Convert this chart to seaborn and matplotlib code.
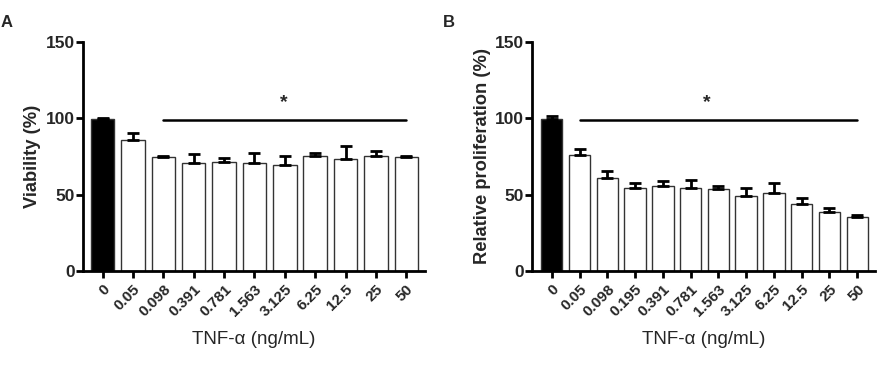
import numpy as np
import pandas as pd
import seaborn as sns
import matplotlib
matplotlib.use('Agg')
import matplotlib.pyplot as plt

# ---------------- data ----------------
dose_a = ['0', '0.05', '0.098', '0.391', '0.781', '1.563', '3.125', '6.25', '12.5', '25', '50']
viab = [99.5, 86, 74.5, 70.5, 71.5, 70.5, 69.5, 75.5, 73, 75, 74.5]
viab_err = [0.8, 4, 1, 6.3, 2.2, 7, 6, 1.7, 8.6, 3.5, 1]

dose_b = ['0', '0.05', '0.098', '0.195', '0.391', '0.781', '1.563', '3.125', '6.25', '12.5', '25', '50']
prolif = [99.6, 76, 61, 54.4, 55.5, 54.5, 53.3, 49, 51.3, 43.5, 38.5, 35.2]
prolif_err = [2, 3.5, 4.4, 3.3, 3.3, 5, 2, 5, 6, 4, 2.5, 1.5]

sns.set_theme(style='ticks')
plt.rcParams['font.family'] = ['Liberation Sans', 'DejaVu Sans']

fig = plt.figure(figsize=(8.82, 3.67), dpi=100)
axA = fig.add_axes([0.0941, 0.262, 0.3878, 0.624])
axB = fig.add_axes([0.6035, 0.262, 0.3886, 0.624])


def panel(ax, doses, vals, errs, ylab, xlim, sig_from, star_x):
    n = len(doses)
    df = pd.DataFrame({'dose': doses, 'val': vals})
    pal = ['black'] + ['white'] * (n - 1)
    sns.barplot(data=df, x='dose', y='val', hue='dose', palette=pal, legend=False,
                order=doses, width=0.77, edgecolor='#333333', linewidth=1.0,
                errorbar=None, ax=ax)
    ax.errorbar(np.arange(n), vals, yerr=[np.zeros(n), errs], fmt='none',
                ecolor='black', elinewidth=2.0, capsize=4, capthick=2.0,
                clip_on=False, zorder=3)
    # significance bar
    ax.plot([sig_from, n - 1], [99, 99], color='black', lw=1.8)
    ax.text(star_x, 110, '*', ha='center', va='center', fontsize=14, fontweight='bold')

    ax.set_ylim(0, 150)
    ax.set_xlim(*xlim)
    ax.set_yticks([0, 50, 100, 150])
    for s in ['top', 'right']:
        ax.spines[s].set_visible(False)
    for s in ['left', 'bottom']:
        ax.spines[s].set_linewidth(2.0)
        ax.spines[s].set_color('black')
    ax.tick_params(axis='both', length=5, width=2.0, color='black')
    ax.tick_params(axis='y', labelsize=12.5, pad=1)
    ax.tick_params(axis='x', labelsize=11, pad=3)
    for lab in ax.get_yticklabels():
        lab.set_fontweight('bold')
    ax.set_xticks(range(n))
    ax.set_xticklabels(doses, rotation=45, ha='right', rotation_mode='anchor',
                       fontweight='bold')
    ax.set_ylabel(ylab, fontsize=13.2, fontweight='bold', labelpad=3)
    ax.set_xlabel('TNF-α (ng/mL)', fontsize=13.5, labelpad=9)


panel(axA, dose_a, viab, viab_err, 'Viability (%)', (-0.65, 10.62), 2, 5.95)
panel(axB, dose_b, prolif, prolif_err, 'Relative proliferation (%)', (-0.70, 11.64), 1, 5.6)

fig.text(0.001, 0.94, 'A', fontsize=12, fontweight='bold', va='center')
fig.text(0.502, 0.94, 'B', fontsize=12, fontweight='bold', va='center')

fig.savefig('out.png', dpi=100)
